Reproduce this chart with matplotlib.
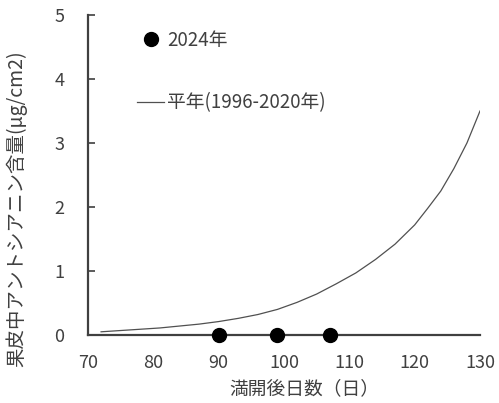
import matplotlib
matplotlib.use("Agg")
import matplotlib.pyplot as plt
from matplotlib.lines import Line2D

plt.rcParams['font.family'] = ['Noto Sans CJK JP', 'DejaVu Sans']

# average curve (1996-2020)
days_avg = [72, 75, 78, 81, 84, 87, 90, 93, 96, 99, 102, 105, 108, 111, 114, 117, 120, 122, 124, 126, 128, 130]
anth_avg = [0.05, 0.07, 0.09, 0.11, 0.14, 0.17, 0.21, 0.26, 0.32, 0.40, 0.51, 0.64, 0.80, 0.97, 1.18, 1.42, 1.72, 1.98, 2.25, 2.60, 3.00, 3.50]

# 2024 measurements
days_2024 = [90, 99, 107]
anth_2024 = [0, 0, 0]

fig = plt.figure(figsize=(4.99, 4.03), dpi=100)
ax = fig.add_axes([88/499, 68/403, 392/499, 320/403])

ax.plot(days_avg, anth_avg, color='#505050', lw=0.9)
ax.plot(days_2024, anth_2024, 'o', color='black', ms=10, clip_on=False, zorder=5)

ax.set_xlim(70, 130)
ax.set_ylim(0, 5)
ax.set_xticks(range(70, 131, 10))
ax.set_yticks(range(0, 6))

for s in ['top', 'right']:
    ax.spines[s].set_visible(False)
for s in ['left', 'bottom']:
    ax.spines[s].set_color('#404040')
    ax.spines[s].set_linewidth(1.6)

ax.tick_params(axis='y', direction='in', length=5, width=1.2, color='#404040',
               labelsize=13, labelcolor='#404040', pad=17)
ax.tick_params(axis='x', length=0, labelsize=13, labelcolor='#404040', pad=14)

ax.set_xlabel('満開後日数（日）', fontsize=13.5, color='#404040')
ax.xaxis.set_label_coords(0.553, -0.135)
ax.set_ylabel('果皮中アントシアニン含量(μg/cm2)', fontsize=14, color='#404040')
ax.yaxis.set_label_coords(-0.156, 0.395)

handles = [Line2D([], [], ls='none', marker='o', color='black', ms=10),
           Line2D([], [], color='#505050', lw=0.9)]
ax.legend(handles, ['2024年', '平年(1996-2020年)'], loc='upper left',
          bbox_to_anchor=((137-88)/392, (335-30)/320), frameon=False,
          borderpad=0, borderaxespad=0, handlelength=1.45, handletextpad=0.15,
          labelspacing=2.2, fontsize=13.5, labelcolor='#404040')

fig.savefig('out.png', dpi=100)
